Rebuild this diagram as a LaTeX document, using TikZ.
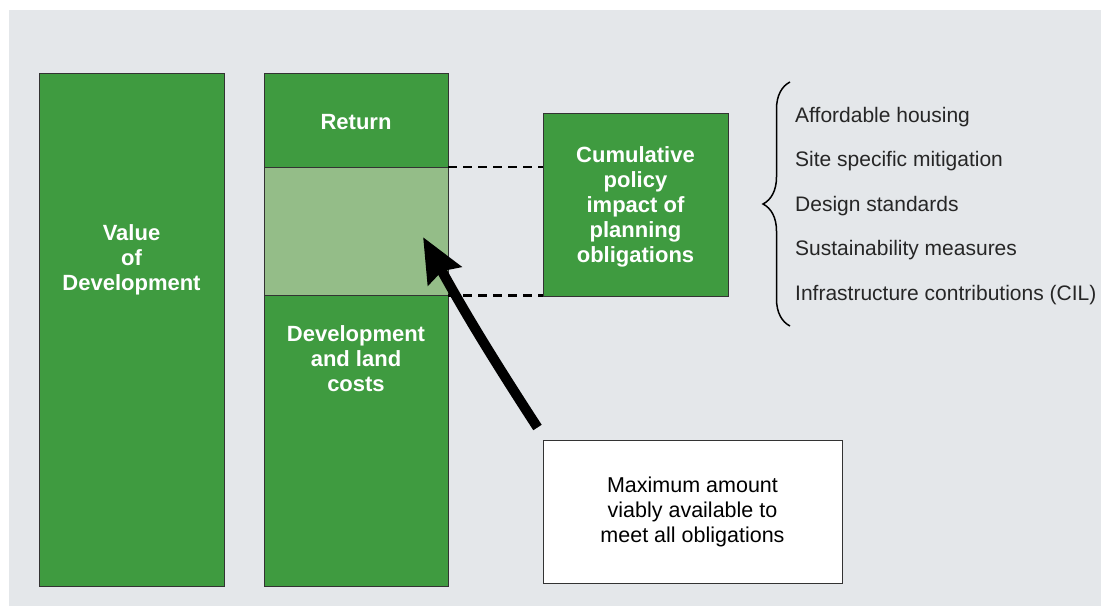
\documentclass[tikz,border=0pt]{standalone}
\usepackage{fontspec}
\setmainfont{Liberation Sans}
\usetikzlibrary{arrows.meta,decorations.pathreplacing,positioning}
\definecolor{bggrey}{RGB}{228,231,234}
\definecolor{devgreen}{RGB}{63,155,64}
\definecolor{palegreen}{RGB}{148,189,136}

\begin{document}
\begin{tikzpicture}[x=1pt,y=-1pt]
    \tikzstyle{block}=[draw=black!80, line width=0.8pt, fill=devgreen, inner sep=0pt]
    \tikzstyle{boldtxt}=[text=white, align=center, font=\fontsize{22}{25}\selectfont\bfseries]
    \tikzstyle{plaintxt}=[align=center, font=\fontsize{21.5}{25}\selectfont]
    \tikzstyle{itemtxt}=[anchor=west, inner sep=0pt, text=black!85, font=\fontsize{21}{25}\selectfont]
    \tikzstyle{guide}=[dash pattern=on 9pt off 6pt, line width=2.2pt]
    \useasboundingbox (0,0) rectangle (1101,606);
    \fill[bggrey] (9,10) rectangle (1101,606);
    % the two columns
    \node[block, minimum width=185pt, minimum height=513pt] (value) at (131.5,329.5) {};
    \node[block, minimum width=184pt, minimum height=94pt] (ret) at (356,120) {};
    \node[block, fill=palegreen, minimum width=184pt, minimum height=128pt] (band) at (356,231) {};
    \node[block, minimum width=184pt, minimum height=291pt] (costs) at (356,440.5) {};
    \node[boldtxt] (valuetxt) at (131.5,260) {Value\\of\\Development};
    \node[boldtxt] (rettxt) at (356,122) {Return};
    \node[boldtxt] (coststxt) at (356,359) {Development\\and land\\costs};
    % obligations
    \node[block, boldtxt, minimum width=185pt, minimum height=183pt] (cumul) at (635.5,204.5) {};
    \node[boldtxt] (cumultxt) at (635.5,206.5) {Cumulative\\policy\\impact of\\planning\\obligations};
    \draw[guide] (band.north east) -- (band.north east -| cumul.west);
    \draw[guide] (band.south east) -- (band.south east -| cumul.west);
    \foreach \txt [count=\i] in {Affordable housing, Site specific mitigation, Design standards,
        Sustainability measures, Infrastructure contributions (CIL)}
        \node[itemtxt] (item\i) at (795,72.5+44.5*\i) {\txt};
    \coordinate (bracetop) at (790,82);
    \coordinate (bracebot) at (790,326);
    \draw[decorate, decoration={brace, amplitude=27pt}, line width=1.5pt] (bracebot) -- (bracetop);
    % maximum amount
    \node[draw=black!80, line width=1pt, fill=white, minimum width=299pt, minimum height=143pt,
        plaintxt] (maxbox) at (692.5,511.5) {Maximum amount\\viably available to\\meet all obligations};
    \coordinate (tip) at (423,237);
    \draw[line width=10pt, -{Stealth[length=44pt,width=37pt,inset=5pt]}]
        ([shift={(-5,-12)}]maxbox.north west) to[bend left=2] (tip);
\end{tikzpicture}
\end{document}
